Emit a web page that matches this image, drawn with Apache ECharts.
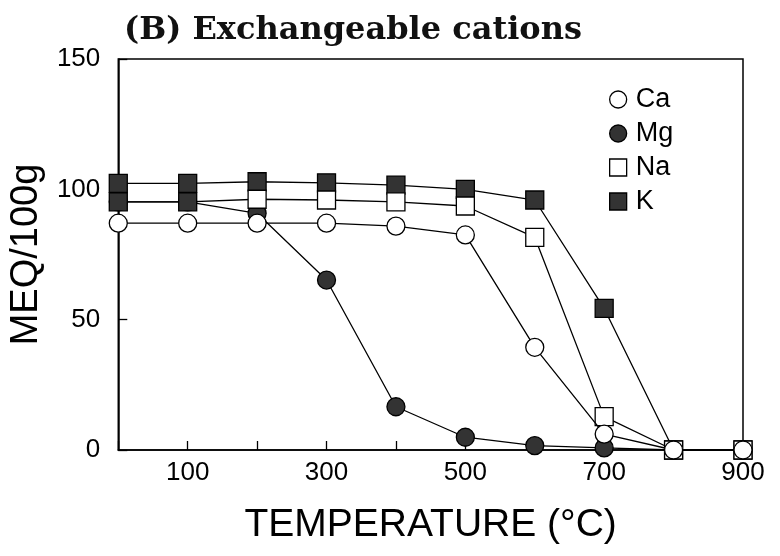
<!DOCTYPE html>
<html>
<head>
<meta charset="utf-8">
<script src="https://cdn.jsdelivr.net/npm/echarts@6/dist/echarts.min.js"></script>
<style>
  html, body { margin: 0; padding: 0; background: #fff; }
  #chart { width: 780px; height: 556px; }
</style>
</head>
<body>
<div id="chart"></div>
<script>
// Exchangeable cations (MEQ/100g) after heating to each temperature
const temperatures = [0, 100, 200, 300, 400, 500, 600, 700, 800, 900];
const caValues = [87, 87, 87, 87, 85.9, 82.5, 39.4, 6.1, 0, 0];
const mgValues = [95.2, 95.2, 90.8, 65.2, 16.6, 4.9, 1.7, 0.8, 0, 0];
const naValues = [95.2, 95.2, 96.2, 95.9, 95.2, 93.6, 81.6, 12.8, 0, 0];
const kValues = [102.3, 102.3, 102.9, 102.5, 101.6, 100, 95.9, 54.3, 0, 0];
const xTickLabels = ['100', '300', '500', '700', '900'];
const yTickLabels = ['0', '50', '100', '150'];

const openStyle = { color: '#fff', borderColor: '#000', borderWidth: 1.3 };
const filledStyle = { color: '#333', borderColor: '#000', borderWidth: 1.3 };

// points where the Na square sits in the shaded K/Mg stack at low temperature
const shadedNaTemps = [0, 100];

function pairs(vals, shadedTemps) {
  return temperatures.map((t, i) => {
    if (shadedTemps && shadedTemps.indexOf(t) >= 0) {
      return { value: [t, vals[i]], itemStyle: { color: '#333' } };
    }
    return [t, vals[i]];
  });
}

function cationSeries(name, vals, symbol, style, z, shadedTemps) {
  return {
    name: name,
    type: 'line',
    data: pairs(vals, shadedTemps),
    symbol: symbol,
    symbolSize: 18,
    showAllSymbol: true,
    z: z,
    lineStyle: { color: '#000', width: 1.3 },
    itemStyle: style,
    emphasis: { disabled: true },
    animation: false
  };
}

const chart = echarts.init(document.getElementById('chart'), null, { renderer: 'canvas' });
chart.setOption({
  backgroundColor: '#fff',
  animation: false,
  title: {
    text: '(B) Exchangeable cations',
    left: 119,
    top: 10,
    textStyle: {
      fontFamily: 'DejaVu Serif',
      fontWeight: 'bold',
      fontSize: 32,
      color: '#111'
    }
  },
  legend: {
    orient: 'vertical',
    left: 604,
    top: 81,
    itemGap: 7,
    itemWidth: 17,
    itemHeight: 17,
    textStyle: { fontFamily: 'Liberation Sans', fontSize: 27, color: '#000', padding: [0, 0, 0, 4] },
    data: [
      { name: 'Ca', icon: 'circle', itemStyle: openStyle },
      { name: 'Mg', icon: 'circle', itemStyle: filledStyle },
      { name: 'Na', icon: 'rect', itemStyle: openStyle },
      { name: 'K', icon: 'rect', itemStyle: filledStyle }
    ]
  },
  grid: {
    left: 117,
    right: 37,
    top: 59,
    bottom: 106,
    show: true,
    borderColor: '#000',
    borderWidth: 1.5,
    backgroundColor: 'transparent'
  },
  xAxis: {
    type: 'value',
    min: 0,
    max: 900,
    interval: 100,
    name: 'TEMPERATURE (°C)',
    nameLocation: 'middle',
    nameGap: 56,
    nameTextStyle: { fontFamily: 'Liberation Sans', fontSize: 39, color: '#000' },
    axisLine: { show: true, lineStyle: { color: '#000', width: 1.5 } },
    axisTick: { show: true, inside: true, length: 9, lineStyle: { color: '#000', width: 1.3 } },
    splitLine: { show: false },
    axisLabel: {
      margin: 10,
      fontFamily: 'Liberation Sans',
      fontSize: 26,
      color: '#000',
      formatter: v => (xTickLabels.indexOf(String(v)) >= 0 ? String(v) : '')
    }
  },
  yAxis: {
    type: 'value',
    min: 0,
    max: 150,
    interval: 50,
    name: 'MEQ/100g',
    nameLocation: 'middle',
    nameRotate: 90,
    nameGap: 72,
    nameTextStyle: { fontFamily: 'Liberation Sans', fontSize: 38, color: '#000' },
    axisLine: { show: true, lineStyle: { color: '#000', width: 1.5 } },
    axisTick: { show: true, inside: true, length: 9, lineStyle: { color: '#000', width: 1.3 } },
    splitLine: { show: false },
    axisLabel: {
      margin: 18,
      fontFamily: 'Liberation Sans',
      fontSize: 26,
      color: '#000',
      formatter: v => (yTickLabels.indexOf(String(v)) >= 0 ? String(v) : '')
    }
  },
  // K drawn lowest, then Mg, Na, and Ca on top
  series: [
    cationSeries('K', kValues, 'rect', filledStyle, 2),
    cationSeries('Mg', mgValues, 'circle', filledStyle, 3),
    cationSeries('Na', naValues, 'rect', openStyle, 4, shadedNaTemps),
    cationSeries('Ca', caValues, 'circle', openStyle, 5)
  ]
});
</script>
</body>
</html>
